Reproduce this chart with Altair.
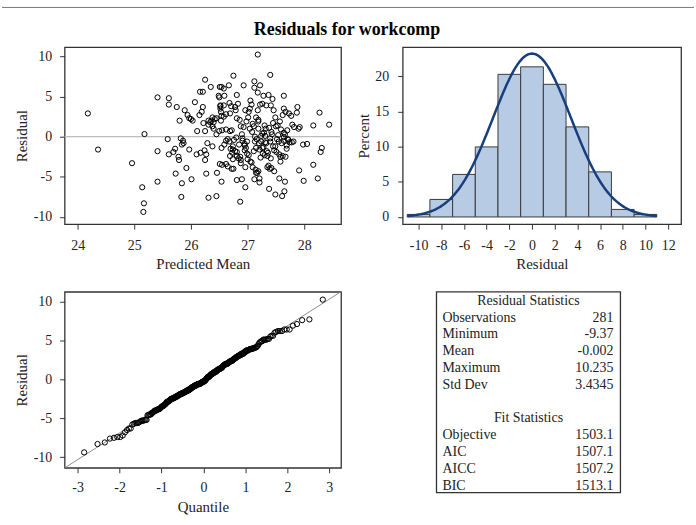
import altair as alt
import pandas as pd

# ---- residuals by predicted mean (281 observations) ----
pred_mean = [
    24.18, 24.36, 24.96, 25.18, 25.14, 25.17, 25.16, 25.41, 25.41, 25.41,
    25.61, 25.61, 25.59, 25.61, 25.75, 25.69, 25.72, 25.73, 25.78, 25.79,
    25.80, 25.82, 25.84, 25.86, 25.87, 25.84, 25.83, 25.89, 25.94, 25.92,
    25.97, 25.97, 26.00, 26.03, 26.01, 26.07, 26.11, 26.10, 26.15, 26.16,
    26.17, 26.19, 26.21, 26.21, 26.22, 26.24, 26.25, 26.25, 26.27, 26.25,
    26.27, 26.29, 26.31, 26.31, 26.34, 26.31, 26.35, 26.36, 26.38, 26.40,
    26.38, 26.38, 26.42, 26.45, 26.45, 26.46, 26.49, 26.50, 26.51, 26.54,
    26.52, 26.52, 26.53, 26.54, 26.50, 26.55, 26.54, 26.54, 26.51, 26.58,
    26.59, 26.58, 26.59, 26.62, 26.62, 26.65, 26.67, 26.68, 26.69, 26.69,
    26.69, 26.71, 26.72, 26.74, 26.74, 26.74, 26.75, 26.75, 26.78, 26.79,
    26.80, 26.81, 26.83, 26.81, 26.81, 26.81, 26.81, 26.85, 26.86, 26.87,
    26.88, 26.87, 26.90, 26.91, 26.91, 26.93, 26.93, 26.95, 26.95, 26.96,
    26.96, 26.96, 26.98, 26.99, 26.99, 27.00, 27.01, 27.02, 27.04, 27.04,
    27.05, 27.07, 27.07, 27.09, 27.09, 27.12, 27.11, 27.13, 27.13, 27.14,
    27.12, 27.12, 27.15, 27.15, 27.17, 27.18, 27.18, 27.18, 27.19, 27.19,
    27.19, 27.20, 27.21, 27.21, 27.21, 27.22, 27.24, 27.24, 27.26, 27.26,
    27.27, 27.28, 27.29, 27.30, 27.31, 27.32, 27.33, 27.31, 27.34, 27.35,
    27.37, 27.38, 27.37, 27.40, 27.40, 27.40, 27.41, 27.42, 27.42, 27.44,
    27.45, 27.45, 27.46, 27.47, 27.49, 27.49, 27.49, 27.51, 27.53, 27.54,
    27.55, 27.56, 27.57, 27.58, 27.59, 27.61, 27.62, 27.64, 27.64, 27.64,
    27.64, 27.64, 27.65, 27.66, 27.67, 27.67, 27.69, 27.69, 27.70, 27.71,
    27.73, 27.74, 27.77, 27.78, 27.79, 27.81, 27.82, 27.87, 27.88, 27.90,
    27.92, 27.91, 27.98, 27.99, 28.05, 28.16, 28.16, 28.24, 28.27, 28.29,
    28.31, 28.44,
    26.52, 26.58, 27.22, 26.55, 26.65, 26.72, 27.05, 27.19, 27.35, 27.39,
    26.88, 27.58, 26.40, 26.45, 26.53, 26.62, 26.88, 27.15, 27.30, 27.38,
    27.50, 27.62, 26.62, 26.68, 26.76, 26.90, 26.95, 27.08, 27.16, 27.26,
    27.33, 27.43, 27.52, 27.60, 27.66, 27.72, 26.70, 26.73, 26.78, 26.84,
    26.97, 27.02, 27.11, 27.23, 27.28, 27.36, 27.41, 27.47, 27.56,
]
residual = [
    2.9, -1.6, -3.3, 0.33, -6.3, -8.3, -9.37, 4.9, -1.8, -5.6,
    4.8, 4.0, -0.3, -2.2, 3.7, -1.9, -1.5, -4.6, -2.5, -2.9,
    2.0, -0.2, -0.98, -0.5, -0.8, -5.8, -7.5, 3.3, 2.7, -3.9,
    -1.6, 2.3, 2.2, 2.0, -5.3, 4.3, 0.7, -2.2, 2.7, 5.6,
    -2.0, 3.1, 5.6, 3.7, 1.7, -1.7, 7.1, 0.7, -2.2, -2.9,
    -4.6, -0.8, 2.0, 1.5, 1.8, -7.6, 6.2, 2.0, 1.3, 1.0,
    -1.2, 2.4, 2.2, 0.3, -7.4, -4.5, 5.1, 4.9, 6.2, 6.2,
    3.9, 3.5, 3.1, 2.6, 0.7, 0.8, -1.4, -5.6, -3.4, 6.0,
    5.1, 2.5, -0.98, -0.5, -3.4, -0.3, 6.4, 4.2, 2.9, 0.7,
    -2.4, 3.8, 0.8, -1.2, -1.6, -2.8, -4.0, 7.6, 3.7, 3.3,
    -0.1, 5.2, 4.1, 2.3, -1.9, -2.4, -5.4, -0.98, 2.1, -2.5,
    -2.9, -8.1, -5.3, -0.5, -0.2, 6.4, 1.2, -1.1, -1.7, 3.3,
    -3.8, -6.3, 1.9, -0.6, -2.1, -2.8, 2.4, 3.1, 1.0, 3.5,
    4.5, -3.2, 4.0, 1.6, -3.8, 6.9, 1.3, 0.0, -0.6, -4.1,
    -5.3, 6.1, -1.4, -4.5, -4.5, 10.235, 5.5, 3.3, 2.1, 1.9,
    1.0, -0.8, -1.6, -5.2, -5.7, 6.4, 0.1, -0.6, 4.1, -1.4,
    -2.1, 5.1, 0.5, -2.3, -0.7, 1.0, 3.9, 0.1, -1.8, -2.4,
    5.2, -6.5, -3.6, 7.7, -0.2, -0.6, 3.9, 0.6, -3.9, 4.7,
    -1.2, 1.7, 3.3, -4.3, 2.4, -1.2, -7.2, -1.9, 1.4, 0.2,
    -0.6, -5.2, 1.9, -2.5, 0.9, -7.4, -2.4, 5.1, 3.5, 0.5,
    -0.05, -0.5, -6.8, -5.6, -2.5, 3.1, -1.1, -1.5, 0.8, -0.3,
    2.9, -0.7, 2.6, -0.7, 1.5, -0.6, 1.2, 3.0, 3.7, 1.0,
    1.2, -4.2, -0.98, -5.5, -0.9, 1.4, -3.5, -5.2, 3.0, -1.9,
    -1.4, 1.5,
    3.8, 3.9, 4.0, -3.5, -3.7, -4.0, -3.1, -4.3, -3.8, -4.0,
    -3.3, -3.1, 1.8, 2.3, 2.0, 2.8, 1.3, 2.4, 1.4, 1.1,
    1.3, 2.7, 0.9, -0.6, -0.4, 0.3, -0.9, 0.6, -0.3, 0.4,
    -0.8, 0.3, -0.3, -0.8, 0.3, -0.4, -1.5, -2.0, -1.8, -2.7,
    -1.4, -2.3, -1.8, -2.6, -1.3, -2.0, -2.7, -1.7, -2.2,
]

# ---- residual histogram (bin midpoints, percent of observations) ----
hist_mid = [-10, -8, -6, -4, -2, 0, 2, 4, 6, 8, 10]
hist_pct = [0.36, 2.49, 6.05, 9.96, 20.28, 21.35, 18.86, 12.81, 6.41, 1.07, 0.36]

# ---- summary tables ----
stat_labels = ["Observations", "Minimum", "Mean", "Maximum", "Std Dev"]
stat_values = ["281", "-9.37", "-0.002", "10.235", "3.4345"]
fit_labels = ["Objective", "AIC", "AICC", "BIC"]
fit_values = ["1503.1", "1507.1", "1507.2", "1513.1"]

RES_MEAN = -0.002
RES_SD = 3.4345

SERIF = "Liberation Serif"
INK = "#222222"
FRAME = "#333333"

df = pd.DataFrame({"pred": pred_mean, "resid": residual})
one = pd.DataFrame({"k": [0]})

# ---------------- residual vs predicted mean ----------------
sx = alt.Scale(domain=[23.77, 28.65], nice=False, zero=False)
sy = alt.Scale(domain=[-10.9, 11.15], nice=False, zero=False)

pts = alt.Chart(df).mark_point(
    shape="circle", filled=False, color="#000000", size=27, strokeWidth=1, opacity=1
).encode(
    x=alt.X("pred:Q", scale=sx,
            axis=alt.Axis(values=[24, 25, 26, 27, 28], title="Predicted Mean",
                          labelPadding=9, titlePadding=5)),
    y=alt.Y("resid:Q", scale=sy,
            axis=alt.Axis(values=[-10, -5, 0, 5, 10], title="Residual",
                          labelPadding=8, titlePadding=4)),
)
zero_line = alt.Chart(one).mark_rule(color="#bdbdbd", strokeWidth=1.3).encode(
    y=alt.datum(0, scale=sy)
)
top_border = alt.Chart(one).mark_rule(color="#777777", strokeWidth=1).encode(
    x=alt.value(-63), x2=alt.value(633), y=alt.value(-40)
)
main_title = alt.Chart(one).mark_text(
    font=SERIF, fontSize=18, fontWeight="bold", color="#000000",
    align="center", baseline="alphabetic"
).encode(x=alt.value(284), y=alt.value(-12), text=alt.value("Residuals for workcomp"))

scatter = alt.layer(zero_line, pts, top_border, main_title).properties(width=278, height=178)

# ---------------- histogram with normal density ----------------
hx = alt.Scale(domain=[-11.4, 13.14], nice=False, zero=False)
hy = alt.Scale(domain=[-1.03, 24.14], nice=False, zero=False)
hx_axis = alt.Axis(values=list(range(-10, 13, 2)), title="Residual",
                   labelPadding=9, titlePadding=5, labelOverlap=False,
                   labelFlush=False, labelBound=False)
hy_axis = alt.Axis(values=[0, 5, 10, 15, 20], title="Percent",
                   labelPadding=9, titlePadding=3)

hist_df = pd.DataFrame({"mid": hist_mid, "pct": hist_pct})
bars = alt.Chart(hist_df).transform_calculate(
    lo="datum.mid - 1", hi="datum.mid + 1"
).mark_rect(fill="#b7cbe4", stroke="#3a3a3a", strokeWidth=1).encode(
    x=alt.X("lo:Q", scale=hx, axis=hx_axis),
    x2="hi:Q",
    y=alt.Y("pct:Q", scale=hy, axis=hy_axis),
    y2=alt.datum(0),
)
curve = alt.Chart(alt.sequence(-11, 11.05, 0.1, as_="r")).transform_calculate(
    dens=f"200 * densityNormal(datum.r, {RES_MEAN}, {RES_SD})"
).mark_line(color="#163f7c", strokeWidth=2.5).encode(
    x=alt.X("r:Q", scale=hx, axis=hx_axis), y=alt.Y("dens:Q", scale=hy, axis=hy_axis)
)
histogram = alt.layer(bars, curve).properties(width=280, height=178)

# ---------------- normal quantile plot ----------------
qx = alt.Scale(domain=[-3.31, 3.28], nice=False, zero=False)
qy = alt.Scale(domain=[-11.35, 11.24], nice=False, zero=False)

qq_pts = alt.Chart(df).transform_window(
    rank="row_number()", sort=[alt.SortField("resid")]
).transform_joinaggregate(n="count()").transform_calculate(
    q="quantileNormal((datum.rank - 0.375) / (datum.n + 0.25))"
).mark_point(shape="circle", filled=False, color="#000000", size=28, strokeWidth=1, opacity=1).encode(
    x=alt.X("q:Q", scale=qx,
            axis=alt.Axis(values=[-3, -2, -1, 0, 1, 2, 3], title="Quantile",
                          labelPadding=8, titlePadding=5)),
    y=alt.Y("resid:Q", scale=qy,
            axis=alt.Axis(values=[-10, -5, 0, 5, 10], title="Residual",
                          labelPadding=8, titlePadding=4)),
)
qq_line = alt.Chart(alt.sequence(-4, 4.5, 8, as_="q")).transform_calculate(
    fit=f"{RES_MEAN} + {RES_SD} * datum.q"
).mark_line(color="#8c8c8c", strokeWidth=1, clip=True).encode(
    x=alt.X("q:Q", scale=qx), y=alt.Y("fit:Q", scale=qy)
)
qqplot = alt.layer(qq_line, qq_pts).properties(width=278, height=177)

# ---------------- statistics table ----------------
rows = []
rows.append({"row": 0, "label": "Residual Statistics", "value": "", "kind": "head"})
for i, (lab, val) in enumerate(zip(stat_labels, stat_values)):
    rows.append({"row": 1 + i, "label": lab, "value": val, "kind": "body"})
rows.append({"row": 7, "label": "Fit Statistics", "value": "", "kind": "head"})
for i, (lab, val) in enumerate(zip(fit_labels, fit_values)):
    rows.append({"row": 8 + i, "label": lab, "value": val, "kind": "body"})
tab_df = pd.DataFrame(rows)

# the table cell is wider than its box; the box sits at its right-hand side
BOX_L, BOX_W, BOX_H = 34, 185, 202
ty = alt.Scale(domain=[-0.533, 11.42], nice=False, zero=False, reverse=True)
tab_base = alt.Chart(tab_df)
txt = dict(font=SERIF, fontSize=14, color=INK, baseline="middle")
box = alt.Chart(one).mark_rect(fill="white", stroke=FRAME, strokeWidth=1.3).encode(
    x=alt.value(BOX_L), x2=alt.value(BOX_L + BOX_W), y=alt.value(0), y2=alt.value(BOX_H))
heads = tab_base.transform_filter("datum.kind == 'head'").mark_text(align="center", **txt).encode(
    x=alt.value(BOX_L + BOX_W / 2), y=alt.Y("row:Q", scale=ty, axis=None), text="label:N")
labels = tab_base.transform_filter("datum.kind == 'body'").mark_text(align="left", **txt).encode(
    x=alt.value(BOX_L + 6), y=alt.Y("row:Q", scale=ty, axis=None), text="label:N")
values = tab_base.transform_filter("datum.kind == 'body'").mark_text(align="right", **txt).encode(
    x=alt.value(BOX_L + 178), y=alt.Y("row:Q", scale=ty, axis=None), text="value:N")
table = alt.layer(box, heads, labels, values).properties(
    width=BOX_L + BOX_W, height=BOX_H, view=alt.ViewConfig(strokeOpacity=0)
)

# ---------------- panel layout (2 x 2 grid of plot areas) ----------------
chart = alt.concat(
    scatter, histogram, qqplot, table,
    columns=2, spacing=alt.RowColnumber(row=68, column=62), bounds="flush",
).configure(
    padding={"left": 0, "top": 4, "right": 0, "bottom": 0},
    background="white",
).configure_view(
    stroke=FRAME, strokeWidth=1.3
).configure_axis(
    labelFont=SERIF, titleFont=SERIF, labelFontSize=14, titleFontSize=15,
    titleFontWeight="normal", labelColor=INK, titleColor=INK,
    tickColor=FRAME, tickSize=5, tickWidth=1, domain=False, grid=False,
    labelOverlap=False, labelExpr="toString(datum.value)",
)

chart.save("out.html", embed_options={"renderer": "svg", "actions": False})
